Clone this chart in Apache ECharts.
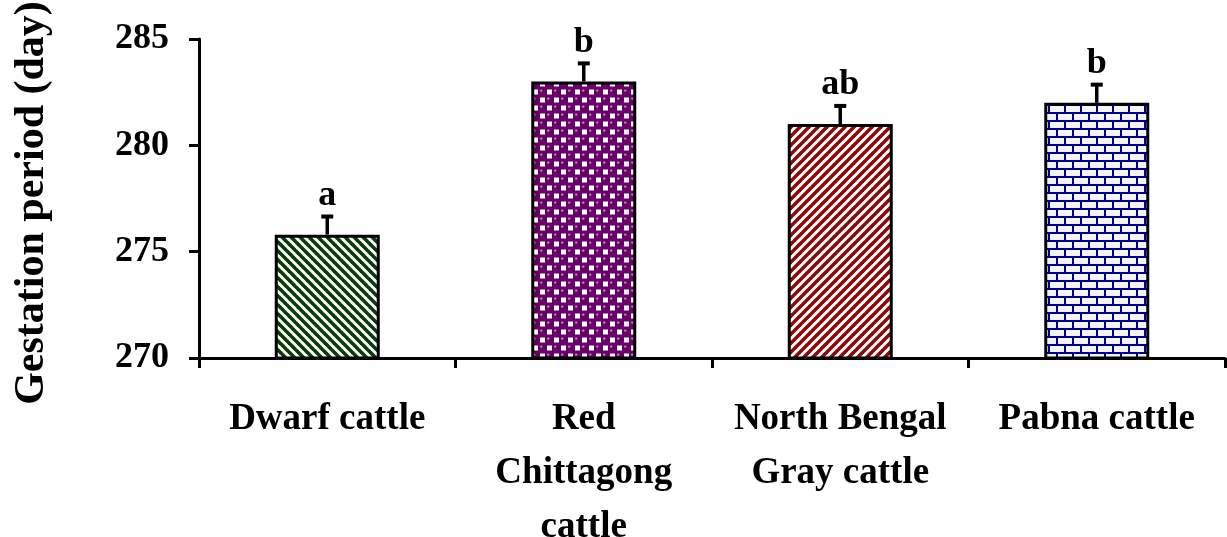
<!DOCTYPE html>
<html>
<head>
<meta charset="utf-8">
<script src="https://cdn.jsdelivr.net/npm/echarts@6/dist/echarts.min.js"></script>
<style>
  html, body { margin: 0; padding: 0; background: #fff; }
  #chart { width: 1227px; height: 537px; }
</style>
</head>
<body>
<div id="chart"></div>
<script>
// Gestation period by breed (mean + SE, with significance letters)
const breeds = ['Dwarf cattle', 'Red\nChittagong\ncattle', 'North Bengal\nGray cattle', 'Pabna cattle'];
const meanDays = [275.8, 283.0, 281.0, 282.0];
const seDays = [0.9, 0.9, 0.9, 0.9];
const sigLetters = ['a', 'b', 'ab', 'b'];
const yTicks = [270, 275, 280, 285];

const FONT = '"Liberation Serif", "Times New Roman", serif';

// ---- fill patterns ----
function makeCanvas(w, h) {
  const c = document.createElement('canvas');
  c.width = w; c.height = h;
  return c;
}

// diagonal stripes; dir = 1 for "\" and -1 for "/"
function stripePattern(color, dir) {
  const s = 9;
  const c = makeCanvas(s, s);
  const g = c.getContext('2d');
  g.fillStyle = '#fff';
  g.fillRect(0, 0, s, s);
  g.strokeStyle = color;
  g.lineWidth = 3.6;
  for (let k = -1; k <= 1; k++) {
    g.beginPath();
    if (dir > 0) {
      g.moveTo(k * s - 1, -1);
      g.lineTo(k * s + s + 1, s + 1);
    } else {
      g.moveTo(k * s - 1, s + 1);
      g.lineTo(k * s + s + 1, -1);
    }
    g.stroke();
  }
  return c;
}

// purple spheres with small white squares between them
function spherePattern(color) {
  const w = 14, h = 16;
  const c = makeCanvas(w, h);
  const g = c.getContext('2d');
  g.fillStyle = color;
  g.fillRect(0, 0, w, h);
  // white gaps on the opposite checker cells
  g.fillStyle = '#fff';
  g.fillRect(10.5 - 2.5, 4 - 2.5, 5, 5);
  g.fillRect(3.5 - 2.5, 12 - 2.5, 5, 5);
  // sphere highlights
  const centers = [[3.5, 4], [10.5, 12]];
  centers.forEach(([x, y]) => {
    g.fillStyle = '#b98db9';
    g.beginPath();
    g.arc(x - 1.3, y - 1.4, 1.2, 0, Math.PI * 2);
    g.fill();
  });
  return c;
}

// brick wall
function brickPattern(color) {
  const w = 16, h = 16;
  const c = makeCanvas(w, h);
  const g = c.getContext('2d');
  g.fillStyle = '#f4f4ff';
  g.fillRect(0, 0, w, h);
  g.fillStyle = color;
  g.fillRect(0, 0, w, 2);
  g.fillRect(0, 8, w, 2);
  g.fillRect(0, 0, 2, 8);
  g.fillRect(8, 8, 2, 8);
  return c;
}

const fills = [
  stripePattern('#0b3b0b', 1),
  spherePattern('#690069'),
  stripePattern('#8a0a0a', -1),
  brickPattern('#00008f')
];

const chart = echarts.init(document.getElementById('chart'), null, { renderer: 'canvas' });

const option = {
  backgroundColor: '#fff',
  animation: false,
  grid: { left: 199, right: 2, top: 39, bottom: 179, containLabel: false, outerBoundsMode: 'none' },
  xAxis: {
    type: 'category',
    data: breeds,
    axisLine: { lineStyle: { color: '#000', width: 3 } },
    axisTick: { show: true, alignWithLabel: false, interval: 0, length: 10, lineStyle: { color: '#000', width: 3 } },
    axisLabel: {
      interval: 0,
      margin: 34,
      color: '#000',
      fontFamily: FONT,
      fontWeight: 'bold',
      fontSize: 37,
      lineHeight: 54,
      align: 'center'
    }
  },
  yAxis: {
    type: 'value',
    min: yTicks[0],
    max: yTicks[yTicks.length - 1],
    interval: 5,
    axisLine: { show: true, lineStyle: { color: '#000', width: 3 } },
    axisTick: { show: true, length: 10, lineStyle: { color: '#000', width: 3 } },
    splitLine: { show: false },
    axisLabel: {
      margin: 30,
      color: '#000',
      fontFamily: FONT,
      fontWeight: 'bold',
      fontSize: 36
    }
  },
  graphic: [{
    type: 'text',
    x: 32,
    y: 203,
    rotation: Math.PI / 2,
    style: {
      text: 'Gestation period (day)',
      fill: '#000',
      font: 'bold 42px ' + FONT,
      textAlign: 'center',
      textVerticalAlign: 'middle'
    }
  }],
  series: [
    {
      type: 'bar',
      barWidth: 105,
      data: meanDays.map((v, i) => ({
        value: v,
        itemStyle: {
          color: { image: fills[i], repeat: 'repeat' },
          borderColor: '#000',
          borderWidth: 3
        }
      })),
      z: 2
    },
    {
      type: 'custom',
      z: 3,
      data: meanDays.map((v, i) => [i, v, seDays[i], sigLetters[i]]),
      renderItem: function (params, api) {
        const i = api.value(0);
        const m = api.value(1);
        const se = api.value(2);
        const base = api.coord([i, m]);
        const top = api.coord([i, m + se]);
        const letter = sigLetters[params.dataIndex];
        return {
          type: 'group',
          children: [
            {
              type: 'line',
              shape: { x1: base[0], y1: base[1], x2: top[0], y2: top[1] },
              style: { stroke: '#000', lineWidth: 3.5 }
            },
            {
              type: 'line',
              shape: { x1: top[0] - 6, y1: top[1] + 1, x2: top[0] + 6, y2: top[1] + 1 },
              style: { stroke: '#000', lineWidth: 4 }
            },
            {
              type: 'text',
              x: top[0],
              y: top[1] - 2,
              style: {
                text: letter,
                fill: '#000',
                font: 'bold 36px ' + FONT,
                textAlign: 'center',
                textVerticalAlign: 'bottom'
              }
            }
          ]
        };
      }
    }
  ]
};

chart.setOption(option);
</script>
</body>
</html>
